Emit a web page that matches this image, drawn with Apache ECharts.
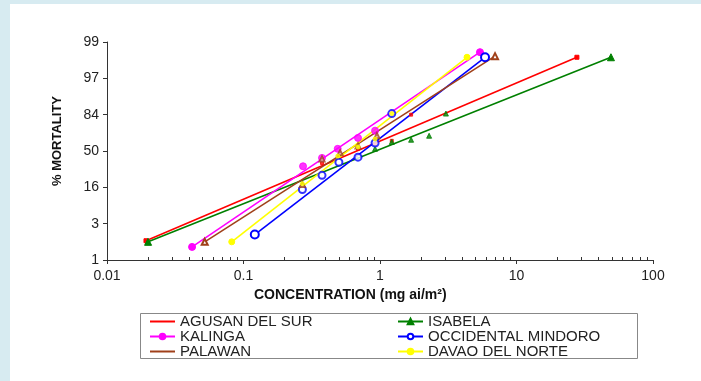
<!DOCTYPE html>
<html>
<head>
<meta charset="utf-8">
<script src="https://cdn.jsdelivr.net/npm/echarts@6/dist/echarts.min.js"></script>
<style>
  html, body { margin: 0; padding: 0; background: #fff; }
  #chart { width: 701px; height: 381px; }
</style>
</head>
<body>
<div id="chart"></div>
<script>
// y values are in probit units (axis position), x values in mg ai/m2
const regionNames = ['AGUSAN DEL SUR', 'ISABELA', 'KALINGA', 'OCCIDENTAL MINDORO', 'PALAWAN', 'DAVAO DEL NORTE']
const regionColors = ['#ff0000', '#008000', '#ff00ff', '#0000ff', '#a0401a', '#ffff00']

// fitted lines (two ends)
const agusanFit = [[0.0193, -2.47], [27.7, 2.58]]
const isabelaFit = [[0.0200, -2.50], [49.2, 2.58]]
const kalingaFit = [[0.042, -2.64], [5.4, 2.72]]
const mindoroFit = [[0.121, -2.30], [5.88, 2.58]]
const palawanFit = [[0.052, -2.50], [6.96, 2.61]]
const davaoFit = [[0.082, -2.50], [4.34, 2.58]]

// observed points
const agusanObs = [[0.376, -0.33], [0.69, 0.06], [0.92, 0.19], [1.22, 0.28], [1.69, 1.0]]
const isabelaObs = [[0.92, 0.06], [1.22, 0.25], [1.69, 0.31], [2.29, 0.42], [3.04, 1.03]]
const kalingaObs = [[0.273, -0.42], [0.376, -0.19], [0.49, 0.06], [0.69, 0.36], [0.92, 0.56]]
const mindoroObs = [[0.27, -1.06], [0.376, -0.67], [0.50, -0.31], [0.69, -0.17], [0.92, 0.22], [1.22, 1.03]]
const palawanObs = [[0.27, -0.92], [0.376, -0.22], [0.51, -0.05], [0.69, 0.14], [0.95, 0.42]]
const davaoObs = [[0.27, -0.90], [0.49, -0.14], [0.69, 0.11], [0.92, 0.33], [1.22, 1.03]]

// axis ticks
const yTickLabels = ['1', '3', '16', '50', '84', '97', '99']
const xMinorTicks = [0.02, 0.03, 0.04, 0.05, 0.06, 0.07, 0.08, 0.09,
  0.2, 0.3, 0.4, 0.5, 0.6, 0.7, 0.8, 0.9,
  2, 3, 4, 5, 6, 7, 8, 9,
  20, 30, 40, 50, 60, 70, 80, 90]

const fits = [agusanFit, isabelaFit, kalingaFit, mindoroFit, palawanFit, davaoFit]
const obs = [agusanObs, isabelaObs, kalingaObs, mindoroObs, palawanObs, davaoObs]
const symbols = ['rect', 'triangle', 'circle', 'emptyCircle', 'emptyTriangle', 'circle']
const endSizes = [4, 7, 7, 8, 6, 6]
const obsSizes = [3, 5, 7, 7, 5, 4]

const font = "'Liberation Sans', Arial, sans-serif"

let chart = echarts.init(document.getElementById('chart'))

let series = []
regionNames.forEach((name, i) => {
  series.push({
    name: name,
    type: 'line',
    xAxisIndex: 0,
    data: fits[i],
    symbol: symbols[i],
    symbolSize: endSizes[i],
    showSymbol: true,
    lineStyle: { color: regionColors[i], width: 1.6 },
    itemStyle: { color: regionColors[i], borderColor: regionColors[i], borderWidth: 1 },
    animation: false,
    z: 3
  })
  series.push({
    name: name,
    type: 'scatter',
    xAxisIndex: 0,
    data: obs[i],
    symbol: symbols[i],
    symbolSize: obsSizes[i],
    itemStyle: { color: regionColors[i], borderColor: regionColors[i], borderWidth: 1 },
    animation: false,
    z: 4
  })
})

let legendCommon = {
  orient: 'vertical',
  top: 309,
  itemWidth: 25,
  itemHeight: 7,
  itemGap: 0,
  textStyle: { fontFamily: font, fontSize: 15, color: '#222', lineHeight: 14.5 },
  inactiveColor: '#ccc'
}

// plain line icon in the legend for the two series shown without marker
const noMarker = { itemStyle: { opacity: 0 } }

let option = {
  backgroundColor: '#fff',
  animation: false,
  grid: { left: 107, right: 48, top: 42, bottom: 121, containLabel: false },
  xAxis: [{
    type: 'log',
    logBase: 10,
    min: 0.01,
    max: 100,
    axisLine: { show: true, onZero: false, lineStyle: { color: '#333', width: 1 } },
    axisTick: { show: true, length: 4, lineStyle: { color: '#333' } },
    axisLabel: {
      margin: 9,
      fontFamily: font,
      fontSize: 14,
      color: '#222',
      formatter: v => String(v)
    },
    splitLine: { show: false }
  }, {
    type: 'log',
    logBase: 10,
    min: 0.01,
    max: 100,
    position: 'bottom',
    axisLine: { show: false, onZero: false },
    axisTick: { show: true, inside: true, length: 3, customValues: xMinorTicks, lineStyle: { color: '#333' } },
    axisLabel: { show: false },
    splitLine: { show: false }
  }],
  yAxis: {
    type: 'value',
    min: -3,
    max: 3,
    interval: 1,
    axisLine: { show: true, onZero: false, lineStyle: { color: '#333', width: 1 } },
    axisTick: { show: true, length: 4, lineStyle: { color: '#333' } },
    axisLabel: {
      margin: 8,
      fontFamily: font,
      fontSize: 14,
      color: '#222',
      formatter: v => yTickLabels[Math.round(v) + 3]
    },
    splitLine: { show: false }
  },
  legend: [
    Object.assign({
      left: 144,
      data: [
        Object.assign({ name: 'AGUSAN DEL SUR' }, noMarker),
        'KALINGA',
        Object.assign({ name: 'PALAWAN' }, noMarker)
      ]
    }, legendCommon),
    Object.assign({ left: 392, data: ['ISABELA', 'OCCIDENTAL MINDORO', 'DAVAO DEL NORTE'] }, legendCommon)
  ],
  graphic: [
    { type: 'rect', left: 0, top: 0, shape: { width: 10, height: 381 }, style: { fill: '#d7ebf1' }, z: -10 },
    { type: 'rect', left: 0, top: 0, shape: { width: 701, height: 4 }, style: { fill: '#d7ebf1' }, z: -10 },
    {
      type: 'rect', left: 138, top: 311,
      shape: { width: 497, height: 45 },
      style: { fill: 'none', stroke: '#888', lineWidth: 1 }
    },
    {
      type: 'text', left: 254, top: 288,
      style: { text: 'CONCENTRATION (mg ai/m²)', font: 'bold 14px ' + font, fill: '#111' }
    },
    {
      type: 'text', x: 51, y: 186, rotation: Math.PI / 2,
      style: { text: '% MORTALITY', font: 'bold 13px ' + font, fill: '#111' }
    }
  ],
  series: series
}

chart.setOption(option)
</script>
</body>
</html>
